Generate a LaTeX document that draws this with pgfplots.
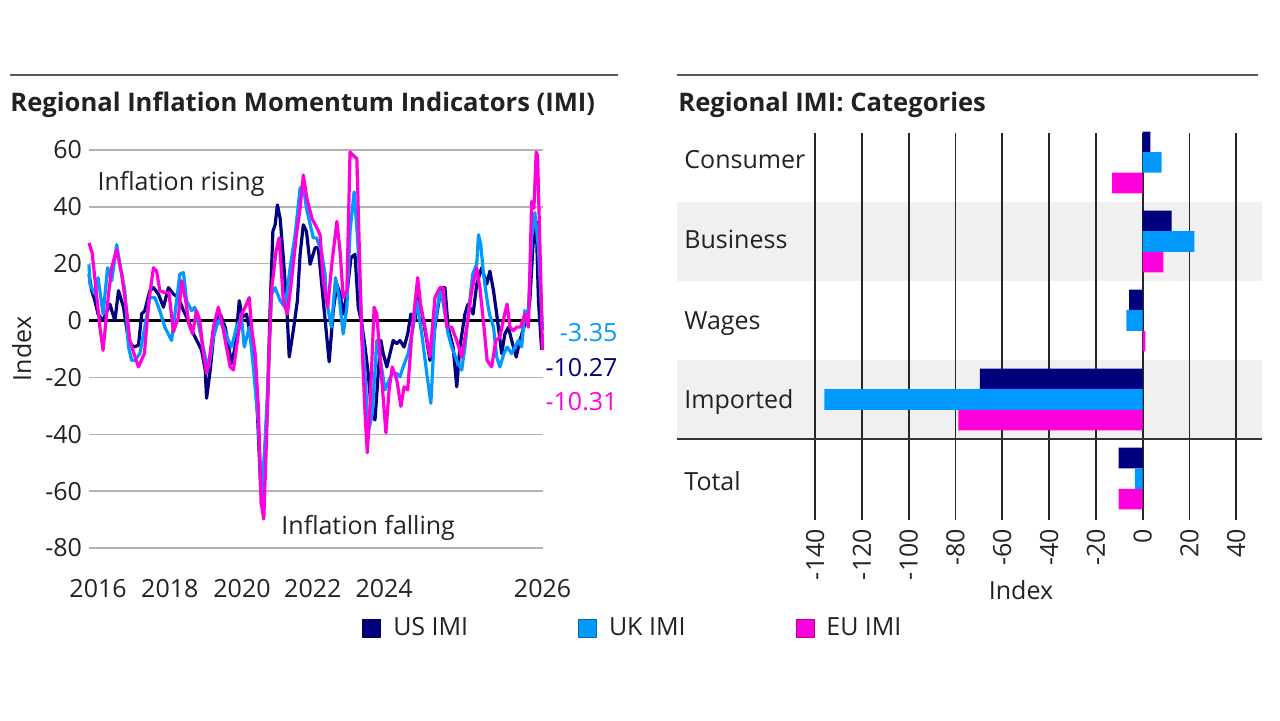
\documentclass[border=0pt]{standalone}
\usepackage{fontspec}
\setmainfont{Open Sans}
\usepackage{pgfplots}
\pgfplotsset{compat=1.18}

\definecolor{usc}{HTML}{00007F}
\definecolor{ukc}{HTML}{0099FF}
\definecolor{euc}{HTML}{FF00DC}
\definecolor{txt}{HTML}{222222}
\definecolor{band}{HTML}{F0F0F0}

\begin{document}
\begin{tikzpicture}[font=\fontsize{12.5}{15}\selectfont, text=txt]
\useasboundingbox (0,0) rectangle (640pt,360pt);

% header rules and panel titles
\draw[line width=1.4pt, black!65] (5pt,322.5pt) -- (309pt,322.5pt);
\draw[line width=1.4pt, black!65] (338.5pt,322.5pt) -- (629pt,322.5pt);
\node[anchor=west, inner sep=0pt, font=\fontsize{12.8}{15}\selectfont\bfseries] at (5pt,307.5pt) {Regional Inflation Momentum Indicators (IMI)};
\node[anchor=west, inner sep=0pt, font=\fontsize{12.8}{15}\selectfont\bfseries] at (339pt,307.5pt) {Regional IMI: Categories};

% ---------------- left panel: IMI time series ----------------
\begin{axis}[
  at={(44.5pt,86pt)}, anchor=south west,
  width=227pt, height=199pt, scale only axis,
  xmin=2016, xmax=2026, ymin=-80, ymax=60,
  axis line style={draw=none},
  major tick length=0pt,
  ytick={-80,-60,...,60},
  ymajorgrids, grid style={gray!60, line width=0.7pt},
  xtick={2016.2,2017.78,2019.37,2020.93,2022.5,2025.99},
  xticklabels={2016,2018,2020,2022,2024,2026},
  xticklabel style={anchor=base, yshift=-24.5pt},
  /pgf/number format/assume math mode=true,
  ticklabel style={font=\fontsize{12.5}{15}\selectfont, text=txt},
  ylabel={Index},
  ylabel style={at={(axis description cs:-0.148,0.5)}, anchor=center, font=\fontsize{12.5}{15}\selectfont},
  clip=false,
  legend style={at={(1.2004,-0.201)}, anchor=center, draw=none, fill=none,
    legend columns=3, font=\fontsize{12.5}{15}\selectfont, text=txt,
    /tikz/every odd column/.append style={column sep=4pt},
    /tikz/every even column/.append style={column sep=53pt}},
  legend image code/.code={\draw[#1] (0pt,-4.5pt) rectangle (9pt,4.5pt);},
  every axis plot/.append style={line width=1.6pt, line join=round},
]
\draw[black, line width=1.6pt] (axis cs:2016,0) -- (axis cs:2026,0);

% US IMI
\addplot[usc, forget plot] coordinates {
(2016.00,16.3)(2016.06,10.5)(2016.13,7.0)(2016.20,2.3)(2016.31,0)(2016.46,5.8)(2016.57,0)(2016.65,10.5)(2016.76,4.7)(2016.87,-7.0)(2016.98,-9.3)(2017.09,-8.7)(2017.16,2.3)(2017.23,3.5)(2017.34,10.5)(2017.42,11.6)(2017.53,9.3)(2017.64,4.7)(2017.75,11.6)(2017.86,9.3)(2017.97,8.1)(2018.08,3.5)(2018.19,0)(2018.30,-4.7)(2018.41,-8.1)(2018.48,-10.5)(2018.56,-17.4)(2018.59,-27.3)(2018.67,-17.4)(2018.78,0)(2018.89,2.3)(2019.00,-2.3)(2019.14,-15.1)(2019.22,-9.3)(2019.31,7.0)(2019.38,1.2)(2019.47,2.3)(2019.55,-4.7)(2019.62,-12.8)(2019.71,-32.6)(2019.78,-58.1)(2019.85,-55.8)(2019.93,-30.2)(2019.99,4.7)(2020.05,31.4)(2020.10,33.7)(2020.15,40.7)(2020.21,36.0)(2020.28,22.1)(2020.35,7.0)(2020.41,-12.8)(2020.50,-3.5)(2020.59,7.0)(2020.65,23.3)(2020.72,33.7)(2020.79,31.4)(2020.87,19.8)(2020.98,25.6)(2021.05,25.6)(2021.16,7.0)(2021.29,-14.5)(2021.38,3.5)(2021.46,12.8)(2021.53,9.3)(2021.60,2.3)(2021.68,9.3)(2021.77,22.1)(2021.86,23.3)(2021.93,4.7)(2022.01,-1.2)(2022.08,-9.3)(2022.15,-18.6)(2022.23,-33.7)(2022.30,-34.9)(2022.37,-18.6)(2022.43,-7.0)(2022.48,-11.6)(2022.56,-16.3)(2022.63,-11.6)(2022.70,-7.0)(2022.78,-8.1)(2022.85,-7.0)(2022.94,-9.3)(2023.02,-4.7)(2023.09,2.3)(2023.18,0)(2023.25,9.3)(2023.34,2.3)(2023.44,-7.0)(2023.51,-14.0)(2023.62,-2.3)(2023.73,9.3)(2023.77,11.6)(2023.84,11.6)(2023.91,-2.3)(2024.02,-9.3)(2024.10,-23.3)(2024.17,-9.3)(2024.28,2.3)(2024.35,5.8)(2024.46,2.3)(2024.54,12.8)(2024.65,18.6)(2024.76,12.8)(2024.83,17.4)(2024.91,10.5)(2024.98,2.3)(2025.09,-11.6)(2025.16,-4.7)(2025.24,-2.3)(2025.31,-7.0)(2025.41,-12.8)(2025.49,-7.0)(2025.58,-2.3)(2025.65,1.2)(2025.71,7.0)(2025.79,29.1)(2025.85,34.9)(2025.90,7.0)(2025.97,-10.27)
};

% UK IMI
\addplot[ukc, forget plot] coordinates {
(2016.00,19.8)(2016.02,12.8)(2016.13,9.3)(2016.20,15.1)(2016.31,2.3)(2016.41,18.6)(2016.50,14.0)(2016.61,26.7)(2016.68,19.8)(2016.79,10.5)(2016.87,-9.3)(2016.94,-14.0)(2017.01,-14.0)(2017.12,-11.6)(2017.23,-2.3)(2017.34,8.1)(2017.45,8.1)(2017.56,3.5)(2017.67,-2.3)(2017.82,-7.0)(2017.93,7.0)(2018.00,16.3)(2018.08,16.9)(2018.15,7.0)(2018.26,3.5)(2018.33,4.7)(2018.44,-3.5)(2018.56,-12.8)(2018.64,-16.3)(2018.74,-5.8)(2018.85,0)(2018.96,-2.3)(2019.07,-7.0)(2019.14,-9.3)(2019.25,-2.3)(2019.36,1.2)(2019.42,-9.3)(2019.53,-2.3)(2019.62,-16.3)(2019.73,-36.0)(2019.80,-62.8)(2019.88,-41.9)(2019.95,-18.6)(2020.02,9.3)(2020.10,11.6)(2020.21,7.0)(2020.32,4.7)(2020.43,18.6)(2020.54,30.2)(2020.65,46.5)(2020.72,47.7)(2020.79,39.5)(2020.94,29.1)(2021.01,29.1)(2021.12,24.4)(2021.20,16.3)(2021.23,7.0)(2021.34,-2.3)(2021.43,15.1)(2021.51,8.1)(2021.60,-4.7)(2021.68,4.7)(2021.75,31.4)(2021.84,45.3)(2021.92,27.9)(2022.01,-2.3)(2022.08,-18.6)(2022.15,-39.5)(2022.24,-32.6)(2022.34,-7.0)(2022.41,-12.8)(2022.52,-24.4)(2022.61,-20.9)(2022.68,-18.6)(2022.78,-18.6)(2022.85,-19.8)(2022.92,-16.3)(2023.03,-11.6)(2023.14,-2.3)(2023.22,7.0)(2023.33,-4.7)(2023.44,-18.6)(2023.53,-29.1)(2023.62,-1.2)(2023.73,10.5)(2023.77,9.3)(2023.84,2.3)(2023.91,-4.7)(2023.99,-9.3)(2024.10,-14.0)(2024.21,-17.4)(2024.28,-9.3)(2024.35,1.2)(2024.45,16.3)(2024.54,19.8)(2024.58,30.2)(2024.63,26.7)(2024.69,16.3)(2024.76,8.1)(2024.82,2.3)(2024.91,-2.3)(2024.98,-12.8)(2025.05,-16.3)(2025.14,-11.6)(2025.21,-9.3)(2025.31,-11.6)(2025.38,-9.3)(2025.46,-7.0)(2025.53,-9.3)(2025.60,3.5)(2025.67,1.2)(2025.75,29.1)(2025.82,38.0)(2025.90,25.6)(2025.99,-3.35)
};

% EU IMI
\addplot[euc, forget plot] coordinates {
(2016.00,27.3)(2016.07,23.8)(2016.15,11.6)(2016.24,-2.3)(2016.31,-10.5)(2016.43,9.3)(2016.50,18.6)(2016.61,25.0)(2016.72,16.3)(2016.83,3.5)(2016.90,-7.0)(2016.99,-11.6)(2017.09,-16.3)(2017.22,-11.6)(2017.32,7.0)(2017.42,18.6)(2017.49,17.4)(2017.56,10.5)(2017.67,9.9)(2017.76,9.9)(2017.86,-4.0)(2017.97,1.2)(2018.04,14.0)(2018.13,7.0)(2018.20,-1.2)(2018.28,-4.6)(2018.37,3.5)(2018.44,0)(2018.52,-11.6)(2018.59,-18.6)(2018.63,-16.3)(2018.74,-2.3)(2018.85,4.7)(2018.92,0)(2019.00,-7.0)(2019.11,-16.3)(2019.18,-17.4)(2019.29,-4.7)(2019.36,2.3)(2019.44,4.7)(2019.53,8.1)(2019.58,-2.3)(2019.66,-11.6)(2019.73,-30.2)(2019.79,-64.0)(2019.85,-69.8)(2019.91,-41.9)(2019.97,-9.3)(2020.02,10.5)(2020.12,24.4)(2020.19,29.1)(2020.28,7.0)(2020.37,2.3)(2020.46,14.0)(2020.57,30.2)(2020.65,39.5)(2020.72,51.2)(2020.80,43.0)(2020.91,36.0)(2021.02,32.6)(2021.09,30.2)(2021.16,14.0)(2021.26,4.7)(2021.34,18.6)(2021.46,34.9)(2021.53,24.4)(2021.60,8.1)(2021.68,10.5)(2021.75,59.3)(2021.82,58.1)(2021.90,57.0)(2021.95,27.9)(2022.01,-7.0)(2022.08,-32.6)(2022.13,-46.5)(2022.19,-30.2)(2022.28,4.7)(2022.34,2.3)(2022.41,-12.8)(2022.54,-39.5)(2022.61,-24.4)(2022.68,-16.3)(2022.78,-20.9)(2022.87,-30.2)(2022.94,-23.3)(2023.02,-24.4)(2023.11,-4.7)(2023.24,15.1)(2023.31,4.7)(2023.40,-2.3)(2023.51,-12.8)(2023.62,8.1)(2023.73,11.6)(2023.80,11.6)(2023.88,-2.3)(2023.99,-2.3)(2024.10,-7.0)(2024.21,-12.8)(2024.32,-2.3)(2024.43,10.5)(2024.54,18.6)(2024.61,11.6)(2024.70,-2.3)(2024.77,-14.0)(2024.87,-16.3)(2024.96,-7.0)(2025.05,-5.8)(2025.14,1.2)(2025.21,5.8)(2025.27,-2.3)(2025.35,-3.5)(2025.42,-2.3)(2025.51,-2.3)(2025.60,2.3)(2025.68,-2.3)(2025.75,41.9)(2025.80,39.5)(2025.85,59.3)(2025.88,58.1)(2025.93,27.9)(2025.99,-10.31)
};

\addlegendimage{fill=usc, draw=usc!60!black, line width=0.4pt}
\addlegendentry{US IMI}
\addlegendimage{fill=ukc, draw=ukc!70!black, line width=0.4pt}
\addlegendentry{UK IMI}
\addlegendimage{fill=euc, draw=euc!70!black, line width=0.4pt}
\addlegendentry{EU IMI}

\node[anchor=base west, inner sep=0pt] at (axis cs:2016.18,45.8) {Inflation rising};
\node[anchor=base west, inner sep=0pt] at (axis cs:2020.23,-75.2) {Inflation falling};
\node[anchor=east, inner sep=0pt, text=ukc] at (axis cs:2027.65,-4.2) {-3.35};
\node[anchor=east, inner sep=0pt, text=usc] at (axis cs:2027.65,-16.5) {-10.27};
\node[anchor=east, inner sep=0pt, text=euc] at (axis cs:2027.65,-28.5) {-10.31};
\end{axis}

% ---------------- right panel: category bars ----------------
% shaded rows behind the grid
\begin{axis}[
  at={(338.5pt,100pt)}, anchor=south west,
  width=292.5pt, height=193.5pt, scale only axis,
  xmin=-199, xmax=51, ymin=0.627, ymax=5.525, y dir=reverse,
  hide axis,
]
\fill[band] (axis cs:-199,1.5) rectangle (axis cs:51,2.5);
\fill[band] (axis cs:-199,3.5) rectangle (axis cs:51,4.5);
\end{axis}

\begin{axis}[
  at={(338.5pt,100pt)}, anchor=south west,
  width=292.5pt, height=193.5pt, scale only axis,
  xbar, bar width=0.26,
  xmin=-199, xmax=51, ymin=0.627, ymax=5.525, y dir=reverse,
  axis line style={draw=none}, major tick length=0pt,
  xtick={-140,-120,...,40}, ytick=\empty,
  xmajorgrids, grid style={black!85, line width=0.9pt},
  /pgf/number format/assume math mode=true,
  xticklabel style={rotate=90, anchor=east, xshift=-1pt, font=\fontsize{12.5}{15}\selectfont, text=txt},
  xlabel={Index},
  xlabel style={at={(axis description cs:0.588,-0.181)}, anchor=center, font=\fontsize{12.5}{15}\selectfont},
  clip=false,
]
\addplot[fill=usc, draw=none, bar shift=-0.26] coordinates {(3.3,1) (12.4,2) (-5.8,3) (-69.6,4) (-10.27,5)};
\addplot[fill=ukc, draw=none, bar shift=0] coordinates {(8.1,1) (22.1,2) (-7.0,3) (-136,4) (-3.35,5)};
\addplot[fill=euc, draw=none, bar shift=0.26] coordinates {(-13.1,1) (8.8,2) (1.2,3) (-78.8,4) (-10.31,5)};

\draw[black!80, line width=1pt] (axis cs:-199,4.5) -- (axis cs:51,4.5);

\node[anchor=base west, inner sep=0pt] at (axis cs:-196,1.081) {Consumer};
\node[anchor=base west, inner sep=0pt] at (axis cs:-196,2.094) {Business};
\node[anchor=base west, inner sep=0pt] at (axis cs:-196,3.119) {Wages};
\node[anchor=base west, inner sep=0pt] at (axis cs:-196,4.119) {Imported};
\node[anchor=base west, inner sep=0pt] at (axis cs:-196,5.157) {Total};
\end{axis}
\end{tikzpicture}
\end{document}
